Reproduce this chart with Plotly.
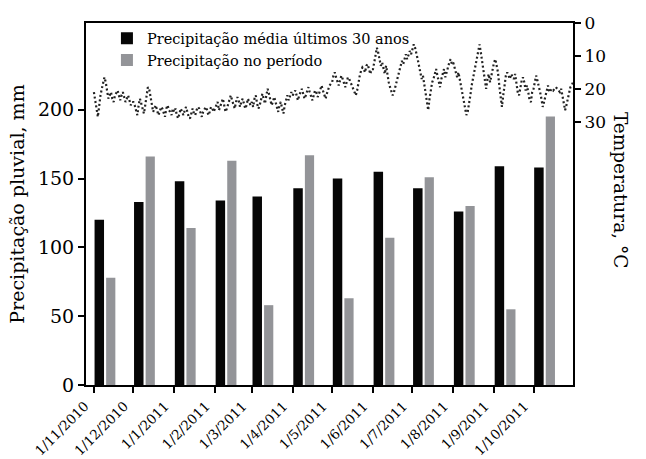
import plotly.graph_objects as go
import pandas as pd

months = ["2010-11-01", "2010-12-01", "2011-01-01", "2011-02-01", "2011-03-01", "2011-04-01",
          "2011-05-01", "2011-06-01", "2011-07-01", "2011-08-01", "2011-09-01", "2011-10-01"]
month_labels = ["1/11/2010", "1/12/2010", "1/1/2011", "1/2/2011", "1/3/2011", "1/4/2011",
                "1/5/2011", "1/6/2011", "1/7/2011", "1/8/2011", "1/9/2011", "1/10/2011"]
prec_media_30 = [120, 133, 148, 134, 137, 143, 150, 155, 143, 126, 159, 158]
prec_periodo = [78, 166, 114, 163, 58, 167, 63, 107, 151, 130, 55, 195]

# daily mean temperature, 1 Nov 2010 - 31 Oct 2011
temp_nov = [21, 23, 26, 28.5, 24, 22, 20, 18, 16.5, 18, 21, 23, 22, 21, 23, 24, 22, 21, 20.5, 22,
            23.5, 22, 21, 22.5, 24, 23, 22, 23.5, 25, 24]
temp_dec = [24, 25, 26.5, 28, 25, 23, 24.5, 26, 27.5, 25, 22, 19.5, 20, 22.5, 25, 27, 26, 25, 26.5, 28,
            27, 25.5, 26, 27.5, 28.5, 26, 25, 26.5, 27, 28, 26]
temp_jan = [27, 26, 28, 29, 27.5, 26, 27, 28, 26.5, 25.5, 27, 28.5, 29, 27, 26, 27.5, 28, 26.5, 25.5, 26,
            27.5, 28.5, 27, 26, 25.5, 26.5, 28, 27, 25.5, 26, 27]
temp_feb = [26, 25, 24, 26.5, 25.5, 24, 23, 25, 27, 26, 24.5, 23, 22, 23.5, 25, 26, 24, 22.5, 23.5, 25.5,
            24, 23, 24.5, 26, 25, 23, 24, 25]
temp_mar = [24, 25.5, 23, 22, 24.5, 26, 25, 23, 21.5, 23, 24.5, 22, 20, 21.5, 23.5, 25, 24, 22.5, 24, 26,
            27, 25, 24, 26, 27.5, 25, 23, 22, 23.5, 22.5, 21]
temp_apr = [22, 21, 20.5, 22, 23.5, 22, 21, 20, 21.5, 23, 22, 20.5, 19.5, 21, 22.5, 23.5, 22, 20.5, 21, 22.5,
            21.5, 20, 19, 20.5, 22, 23, 21.5, 20, 19, 18.5]
temp_may = [18, 16, 15, 16.5, 18, 19, 17.5, 16, 17, 18.5, 19.5, 18, 16.5, 17, 18, 19, 20, 21.5, 22, 20.5,
            18, 16, 14.5, 13.5, 14, 15, 13, 12.5, 14, 15.5, 14]
temp_jun = [14, 12, 10, 7.5, 9, 11, 13, 12, 14, 15.5, 13, 16, 18, 19.5, 21, 22, 21, 19.5, 18, 16,
            14.5, 13, 11.5, 12.5, 10.5, 9.5, 11, 10, 8.5, 9.5]
temp_jul = [8, 6.5, 7.5, 9, 11, 13, 15, 17, 16, 19, 22, 24, 26.5, 23, 20, 18, 17, 15.5, 14, 16,
            18, 19.5, 17, 15, 14, 16.5, 15, 13, 12, 11, 12.5]
temp_aug = [12, 13.5, 15, 16.5, 15, 17, 19, 21.5, 24, 26, 28, 27, 25, 22, 19, 17, 14, 12, 10, 8,
            6.5, 9, 12, 15, 18, 20, 17, 15.5, 18, 16, 13]
temp_sep = [12, 11, 13, 15, 19, 23, 25.5, 22, 18, 16, 15, 16, 17, 15.5, 16.5, 17, 15.5, 19, 21, 22,
            19, 17.5, 16.5, 18, 20.5, 19, 21, 23.5, 24, 21]
temp_oct = [20, 18, 16, 17.5, 19, 21, 23, 25.5, 24, 22, 20, 19, 21, 20.5, 20, 20.5, 20, 19.5, 20, 20.5,
            21, 20, 22, 24, 26.5, 25, 23, 21, 19.5, 19, 18]

temperatura = (temp_nov + temp_dec + temp_jan + temp_feb + temp_mar + temp_apr +
               temp_may + temp_jun + temp_jul + temp_aug + temp_sep + temp_oct)
dias = pd.date_range("2010-11-01", periods=len(temperatura), freq="D")

DAY = 86400000
FONT = "DejaVu Serif"

fig = go.Figure()
fig.add_trace(go.Bar(
    x=months, y=prec_media_30, name="Precipitação média últimos 30 anos",
    marker=dict(color="#060606", line=dict(width=0)),
    offset=0.5 * DAY, width=7.2 * DAY,
))
fig.add_trace(go.Bar(
    x=months, y=prec_periodo, name="Precipitação no período",
    marker=dict(color="#939498", line=dict(width=0)),
    offset=9.3 * DAY, width=7.0 * DAY,
))
fig.add_trace(go.Scatter(
    x=dias, y=temperatura, yaxis="y2", mode="lines", showlegend=False,
    line=dict(color="#222222", width=2.2, dash="2px,2.5px"),
))

fig.update_layout(
    width=646, height=459,
    margin=dict(l=86, r=73, t=23, b=74),
    paper_bgcolor="white", plot_bgcolor="white",
    barmode="overlay",
    font=dict(family=FONT, color="black"),
    showlegend=True,
    legend=dict(x=0.043, y=1.002, xanchor="left", yanchor="top",
                bgcolor="rgba(0,0,0,0)", font=dict(size=14.5, family=FONT),
                tracegroupgap=0, itemsizing="constant"),
    xaxis=dict(
        type="date", range=["2010-10-26", "2011-10-31"], automargin=False,
        tickvals=months, ticktext=month_labels, tickangle=-45,
        tickfont=dict(size=13.5, family=FONT), ticklabelshift=-9,
        showline=True, linecolor="black", linewidth=2, mirror=True,
        ticks="outside", ticklen=6, tickwidth=1.5, tickcolor="black",
        showgrid=False, zeroline=False,
    ),
    yaxis=dict(
        range=[0, 263], tickvals=[0, 50, 100, 150, 200], automargin=False,
        tickfont=dict(size=19, family=FONT),
        title=dict(text="Precipitação pluvial, mm", font=dict(size=19, family=FONT), standoff=8),
        showline=True, linecolor="black", linewidth=2, mirror=True,
        ticks="outside", ticklen=6, tickwidth=1.5, tickcolor="black",
        showgrid=False, zeroline=False,
    ),
    yaxis2=dict(
        overlaying="y", side="right", range=[110, 0], automargin=False,
        tickvals=[0, 10, 20, 30],
        tickfont=dict(size=17, family=FONT),
        showline=True, linecolor="black", linewidth=2,
        ticks="outside", ticklen=6, tickwidth=1.5, tickcolor="black",
        showgrid=False, zeroline=False,
    ),
    annotations=[dict(
        text="Temperatura, °C", textangle=90, xref="paper", yref="paper",
        x=1.0, y=0.539, xshift=47, showarrow=False,
        font=dict(size=18.5, family=FONT), xanchor="center", yanchor="middle",
    )],
)

fig.write_html("out.html", config={"displayModeBar": False},
               post_script="document.body.style.margin='0px';")
